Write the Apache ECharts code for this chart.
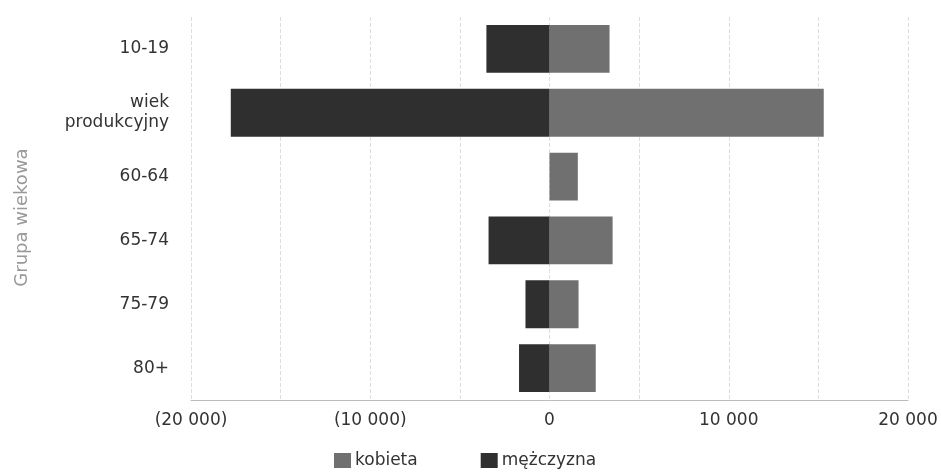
<!DOCTYPE html>
<html><head><meta charset="utf-8">
<script src="https://cdn.jsdelivr.net/npm/echarts@6/dist/echarts.min.js"></script>
<style>html,body{margin:0;padding:0;background:#fff}#c{width:941px;height:475px}</style>
</head><body><div id="c"></div>
<script>
const categories = ['10-19', 'wiek produkcyjny', '60-64', '65-74', '75-79', '80+'];
const kobieta = [3350, 15300, 1580, 3520, 1620, 2580];
const mezczyzna = [-3520, -17780, 0, -3400, -1340, -1700];
const seriesNames = ['kobieta', 'mężczyzna'];
const axisName = 'Grupa wiekowa';

const FF = 'DejaVu Sans';
const chart = echarts.init(document.getElementById('c'));
const fmt = v => {
  if (v % 10000 !== 0) return '';
  const s = Math.abs(v).toString().replace(/\B(?=(\d{3})+(?!\d))/g, ' ');
  return v < 0 ? '(' + s + ')' : s;
};
chart.setOption({
  animation: false,
  textStyle: { fontFamily: FF },
  grid: { left: 191, right: 33, top: 17, bottom: 75 },
  legend: {
    data: seriesNames, top: 452, left: 334, itemGap: 63, padding: 0,
    icon: 'rect', itemWidth: 17, itemHeight: 15,
    textStyle: { fontSize: 17, color: '#333', fontFamily: FF, padding: [0, 0, 0, -1] }
  },
  xAxis: {
    type: 'value', min: -20000, max: 20000, interval: 5000,
    axisLine: { show: true, lineStyle: { color: '#bbb' } },
    axisTick: { show: false },
    axisLabel: { formatter: fmt, fontSize: 17, color: '#333', margin: 12, fontFamily: FF, showMinLabel: true, showMaxLabel: true },
    splitLine: { show: true, lineStyle: { color: '#ddd', type: 'dashed' } }
  },
  yAxis: {
    type: 'category', data: categories, inverse: true,
    name: axisName, nameLocation: 'middle', nameGap: 160, nameRotate: 90,
    nameTextStyle: { fontSize: 18, color: '#999', fontFamily: FF, padding: [0, 18, 0, 0] },
    axisLine: { show: false }, axisTick: { show: false },
    axisLabel: { fontSize: 17, color: '#333', margin: 22, fontFamily: FF, formatter: v => v.replace(' ', '\n'), lineHeight: 20 }
  },
  series: [
    { name: seriesNames[0], type: 'bar', stack: 't', data: kobieta, barWidth: '75%',
      itemStyle: { color: '#707070' } },
    { name: seriesNames[1], type: 'bar', stack: 't', data: mezczyzna, barWidth: '75%',
      itemStyle: { color: '#2f2f2f' } }
  ]
});
</script></body></html>
